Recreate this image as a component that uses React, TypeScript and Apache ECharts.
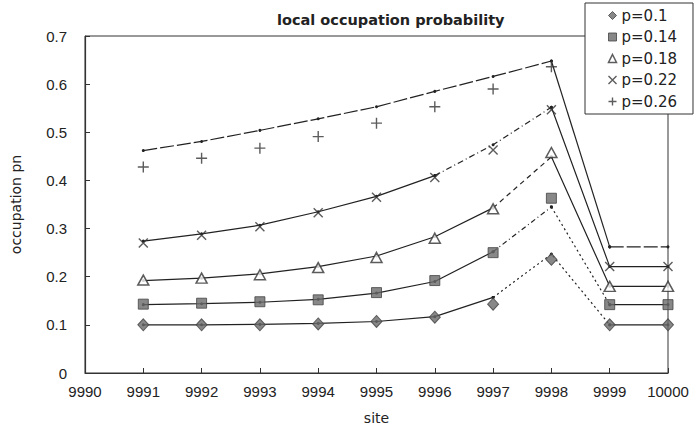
import React, { useEffect, useRef } from "react";
import * as echarts from "echarts";

const sites = [9991, 9992, 9993, 9994, 9995, 9996, 9997, 9998, 9999, 10000];
const pLabels = ["p=0.1", "p=0.14", "p=0.18", "p=0.22", "p=0.26"];

// simulation (markers)
const simP010 = [0.100, 0.100, 0.100, 0.102, 0.107, 0.116, 0.143, 0.236, 0.100, 0.100];
const simP014 = [0.143, 0.145, 0.148, 0.152, 0.167, 0.192, 0.250, 0.363, 0.142, 0.142];
const simP018 = [0.193, 0.197, 0.204, 0.219, 0.240, 0.280, 0.341, 0.458, 0.180, 0.180];
const simP022 = [0.270, 0.286, 0.304, 0.333, 0.365, 0.406, 0.463, 0.547, 0.221, 0.221];
const simP026 = [0.428, 0.446, 0.467, 0.491, 0.519, 0.553, 0.590, 0.636, null, null];

// theory (lines with small dots)
const thP010 = [0.100, 0.100, 0.101, 0.103, 0.107, 0.117, 0.157, 0.247, 0.100, 0.100];
const thP014 = [0.142, 0.144, 0.147, 0.153, 0.166, 0.190, 0.252, 0.345, 0.142, 0.142];
const thP018 = [0.192, 0.197, 0.206, 0.221, 0.243, 0.283, 0.343, 0.449, 0.180, 0.180];
const thP022 = [0.274, 0.289, 0.307, 0.335, 0.367, 0.410, 0.474, 0.552, 0.221, 0.221];
const thP026 = [0.462, 0.481, 0.504, 0.528, 0.553, 0.585, 0.616, 0.648, 0.262, 0.262];

// line segments: [startIndex, endIndex, lineType]
const segP010: [number, number, any][] = [[0, 6, "solid"], [6, 8, [2, 3]], [8, 9, "solid"]];
const segP014: [number, number, any][] = [[0, 6, "solid"], [6, 7, [5, 3, 1, 3]], [7, 8, [2, 3]], [8, 9, "solid"]];
const segP018: [number, number, any][] = [[0, 6, "solid"], [6, 7, [5, 4]], [7, 9, "solid"]];
const segP022: [number, number, any][] = [[0, 5, "solid"], [5, 7, [6, 3, 1, 3]], [7, 9, "solid"]];
const segP026: [number, number, any][] = [[0, 7, [14, 3]], [7, 8, "solid"], [8, 9, [14, 3]]];

const FONT = "'Liberation Sans', Arial, sans-serif";
const WIDE = "'DejaVu Sans', sans-serif";

export default function App() {
  const ref = useRef<HTMLDivElement>(null);
  useEffect(() => {
    if (!ref.current) return;
    const chart = echarts.init(ref.current, null, { renderer: "svg" });

    const sims = [simP010, simP014, simP018, simP022, simP026];
    const ths = [thP010, thP014, thP018, thP022, thP026];
    const segs = [segP010, segP014, segP018, segP022, segP026];

    const symbolDefs: any[] = [
      { symbol: "diamond", size: [11, 12], itemStyle: { color: "#6a6a6a", borderColor: "#444", borderWidth: 1 } },
      { symbol: "rect", size: 10, itemStyle: { color: "#6a6a6a", borderColor: "#444", borderWidth: 1 } },
      { symbol: "triangle", size: [11, 10], itemStyle: { color: "#fff", borderColor: "#333", borderWidth: 1.5 } },
      { symbol: "path://M0,0L10,10M10,0L0,10", size: 9, itemStyle: { color: "none", borderColor: "#333", borderWidth: 1.4 } },
      { symbol: "path://M5,0L5,10M0,5L10,5", size: 11, itemStyle: { color: "none", borderColor: "#333", borderWidth: 1.4 } },
    ];

    const series: any[] = [];
    ths.forEach((th, s) => {
      segs[s].forEach(([a, b, t], k) => {
        series.push({
          type: "line",
          name: `theory-${s}-${k}`,
          data: sites.slice(a, b + 1).map((x, j) => [x, th[a + j]]),
          symbol: "circle",
          symbolSize: 3,
          showSymbol: true,
          itemStyle: { color: "#222" },
          lineStyle: { color: "#222", width: 1.2, type: t },
          silent: true,
          z: 2,
        });
      });
    });
    sims.forEach((sim, s) => {
      const d = symbolDefs[s];
      series.push({
        type: "scatter",
        name: pLabels[s],
        data: sites.map((x, i) => (sim[i] == null ? null : [x, sim[i]])).filter((v) => v != null),
        symbol: d.symbol,
        symbolSize: d.size,
        itemStyle: d.itemStyle,
        z: 3,
      });
    });

    chart.setOption({
      animation: false,
      backgroundColor: "#fff",
      textStyle: { fontFamily: FONT },
      title: {
        text: "local occupation probability",
        left: 272,
        top: 7,
        textStyle: { fontFamily: WIDE, fontSize: 14.5, fontWeight: "bold", color: "#222" },
      },
      legend: {
        data: pLabels.map((n, s) => ({
          name: n,
          itemStyle: { ...symbolDefs[s].itemStyle },
        })),
        orient: "vertical",
        left: 585,
        top: 3,
        padding: [5, 16, 5, 21],
        itemWidth: 8,
        itemHeight: 8,
        itemGap: 6.5,
        itemTextGap: 4,
        itemStyle: { borderWidth: 1.2 },
        borderColor: "#333",
        borderWidth: 1,
        borderRadius: 0,
        backgroundColor: "#fff",
        textStyle: { fontFamily: WIDE, fontSize: 15, lineHeight: 15, color: "#222" },
        selectedMode: false,
        z: 10,
      },
      grid: {
        left: 85,
        right: 26,
        top: 36,
        bottom: 60,
        show: true,
        borderColor: "#333",
        borderWidth: 1,
        backgroundColor: "transparent",
      },
      xAxis: {
        type: "value",
        min: 9990,
        max: 10000,
        interval: 1,
        name: "site",
        nameLocation: "middle",
        nameGap: 38,
        nameTextStyle: { fontFamily: WIDE, fontSize: 14, color: "#222" },
        axisLine: { show: true, lineStyle: { color: "#333", width: 1.2 } },
        axisTick: { show: true, inside: true, length: 5, lineStyle: { color: "#333" } },
        splitLine: { show: false },
        axisLabel: {
          formatter: (v: number) => String(v),
          fontFamily: FONT,
          fontSize: 15,
          color: "#222",
          margin: 11,
        },
      },
      yAxis: {
        type: "value",
        min: 0,
        max: 0.7,
        interval: 0.1,
        name: "occupation pn",
        nameLocation: "middle",
        nameGap: 62,
        nameTextStyle: { fontFamily: WIDE, fontSize: 14, color: "#222" },
        axisLine: { show: true, lineStyle: { color: "#333", width: 1.2 } },
        axisTick: { show: true, inside: true, length: 5, lineStyle: { color: "#333" } },
        splitLine: { show: false },
        axisLabel: {
          formatter: (v: number) => (v === 0 ? "0" : v.toFixed(1)),
          fontFamily: FONT,
          fontSize: 15,
          color: "#222",
          margin: 18,
        },
      },
      series,
    });
    return () => chart.dispose();
  }, []);
  return (
    <div
      ref={ref}
      style={{ position: "fixed", left: 0, top: 0, width: 694, height: 433, background: "#fff" }}
    />
  );
}
